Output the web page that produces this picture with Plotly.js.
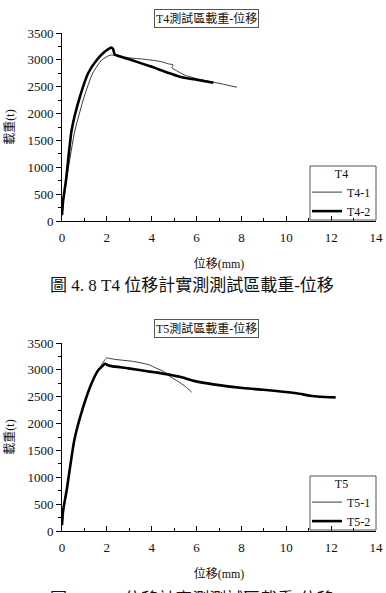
<!DOCTYPE html>
<html>
<head>
<meta charset="utf-8">
<script src="https://cdn.plot.ly/plotly-3.0.1.min.js"></script>
<style>html,body{margin:0;padding:0;background:#fff;}#chart{width:386px;height:593px;}</style>
</head>
<body>
<div id="chart"></div>
<script>
// ---- data ----
const t41_x = [0, 0.08, 0.25, 0.58, 0.99, 1.37, 1.77, 2.07, 2.21, 2.96, 3.7, 4.44, 4.75, 4.95, 4.9, 5.1, 5.45, 6.0, 6.7, 7.2, 7.8];
const t41_y = [100, 420, 900, 1694, 2314, 2755, 2997, 3075, 3090, 3040, 3010, 2966, 2925, 2910, 2850, 2800, 2720, 2650, 2590, 2545, 2490];
const t42_x = [0, 0.05, 0.18, 0.43, 0.8, 1.17, 1.55, 1.9, 2.1, 2.2, 2.28, 2.31, 2.35, 3.0, 4.0, 5.26, 6.0, 6.75];
const t42_y = [112, 380, 763, 1694, 2314, 2755, 2997, 3150, 3210, 3230, 3200, 3150, 3100, 3010, 2870, 2687, 2630, 2575];

const t51_x = [0, 0.08, 0.21, 0.55, 0.95, 1.32, 1.62, 1.85, 1.99, 2.1, 2.36, 3.03, 3.25, 3.92, 4.15, 4.52, 4.67, 4.8, 5.19, 5.5, 5.78];
const t51_y = [100, 400, 763, 1694, 2314, 2750, 2997, 3150, 3225, 3215, 3195, 3165, 3152, 3090, 3040, 2975, 2923, 2880, 2780, 2690, 2585];
const t52_x = [0, 0.05, 0.21, 0.55, 0.95, 1.32, 1.62, 1.8, 1.92, 2.05, 2.21, 2.96, 3.8, 4.44, 5.34, 5.93, 6.75, 8.16, 8.98, 10.46, 11.06, 11.5, 12.2];
const t52_y = [112, 380, 763, 1694, 2314, 2750, 2997, 3070, 3115, 3085, 3070, 3028, 2975, 2935, 2861, 2790, 2730, 2656, 2630, 2563, 2519, 2500, 2488];

const names = ['T4-1', 'T4-2', 'T5-1', 'T5-2'];
const legendTitles = ['T4', 'T5'];
const chartTitles = ['T4測試區載重-位移', 'T5測試區載重-位移'];
const captions = ['圖 4. 8 T4 位移計實測測試區載重-位移', '圖 4. 9 T5 位移計實測測試區載重-位移'];
const xTitle = '位移(mm)';
const yTitle = '載重(t)';

const FONT = "Liberation Serif, Times New Roman, Noto Sans CJK TC, serif";

const thin = {color: '#3a3a3a', width: 1, shape: 'spline', smoothing: 0.5};
const thick = {color: '#000', width: 2.6, shape: 'spline', smoothing: 0.5};

const traces = [
  {x: t41_x, y: t41_y, name: names[0], mode: 'lines', line: thin, xaxis: 'x', yaxis: 'y', legend: 'legend'},
  {x: t42_x, y: t42_y, name: names[1], mode: 'lines', line: thick, xaxis: 'x', yaxis: 'y', legend: 'legend'},
  {x: t51_x, y: t51_y, name: names[2], mode: 'lines', line: thin, xaxis: 'x2', yaxis: 'y2', legend: 'legend2'},
  {x: t52_x, y: t52_y, name: names[3], mode: 'lines', line: thick, xaxis: 'x2', yaxis: 'y2', legend: 'legend2'}
];

const xDom = [62/386, 376/386];
function xax(anchor) {
  return {
    domain: xDom, anchor: anchor, range: [0, 14], dtick: 2, tick0: 0,
    showgrid: false, zeroline: false, showline: true, linecolor: '#000', linewidth: 1,
    ticks: 'inside', ticklen: 5, tickcolor: '#000',
    minor: {dtick: 1, ticks: 'inside', ticklen: 3, tickcolor: '#000', showgrid: false},
    tickfont: {family: FONT, size: 13, color: '#111'},
    ticklabelstandoff: 4,
    title: {text: xTitle, font: {family: FONT, size: 12, color: '#111'}, standoff: 16},
    fixedrange: true
  };
}
function yax(anchor, dom) {
  return {
    domain: dom, anchor: anchor, range: [0, 3500], dtick: 500, tick0: 0,
    showgrid: false, zeroline: false, showline: true, linecolor: '#000', linewidth: 1,
    ticks: 'outside', ticklen: 5, tickcolor: '#000',
    minor: {dtick: 250, ticks: 'outside', ticklen: 3, tickcolor: '#000', showgrid: false},
    tickfont: {family: FONT, size: 13, color: '#111'},
    title: {text: yTitle, font: {family: FONT, size: 12, color: '#111'}, standoff: 10},
    fixedrange: true
  };
}
function leg(title, ytop) {
  return {
    x: 307/386, xanchor: 'left', y: ytop, yanchor: 'top',
    borderwidth: 0, bgcolor: 'rgba(255,255,255,0)',
    title: {text: title, side: 'top center', font: {family: FONT, size: 12, color: '#111'}},
    font: {family: FONT, size: 12, color: '#111'},
    itemwidth: 30, tracegroupgap: 0
  };
}
function box(top, bottom) {
  return {type: 'rect', xref: 'paper', yref: 'paper',
          x0: 310/386, x1: 376/386, y0: 1 - bottom/593, y1: 1 - top/593,
          line: {color: '#555', width: 1}, fillcolor: 'rgba(0,0,0,0)'};
}

const layout = {
  width: 386, height: 593,
  margin: {l: 0, r: 0, t: 0, b: 0},
  paper_bgcolor: '#fff', plot_bgcolor: '#fff',
  showlegend: true,
  xaxis: xax('y'),
  yaxis: yax('x', [1 - 221/593, 1 - 33/593]),
  xaxis2: xax('y2'),
  yaxis2: yax('x2', [1 - 531/593, 1 - 343/593]),
  legend: leg(legendTitles[0], 1 - 162/593),
  legend2: leg(legendTitles[1], 1 - 472/593),
  shapes: [box(166, 220), box(476, 530)],
  annotations: [
    {text: chartTitles[0], xref: 'paper', yref: 'paper', x: 206/386, y: 1 - 18/593, xanchor: 'center', yanchor: 'middle',
     showarrow: false, bordercolor: '#555', borderwidth: 1, borderpad: 1, font: {family: FONT, size: 12, color: '#111'}},
    {text: chartTitles[1], xref: 'paper', yref: 'paper', x: 206/386, y: 1 - 328/593, xanchor: 'center', yanchor: 'middle',
     showarrow: false, bordercolor: '#555', borderwidth: 1, borderpad: 1, font: {family: FONT, size: 12, color: '#111'}},
    {text: captions[0], xref: 'paper', yref: 'paper', x: 192/386, y: 1 - 285/593, xanchor: 'center', yanchor: 'middle',
     showarrow: false, font: {family: FONT, size: 17, color: '#111'}},
    {text: captions[1], xref: 'paper', yref: 'paper', x: 192/386, y: 1 - 599/593, xanchor: 'center', yanchor: 'middle',
     showarrow: false, font: {family: FONT, size: 17, color: '#111'}}
  ]
};

Plotly.newPlot('chart', traces, layout, {displayModeBar: false, staticPlot: true});
</script>
</body>
</html>
